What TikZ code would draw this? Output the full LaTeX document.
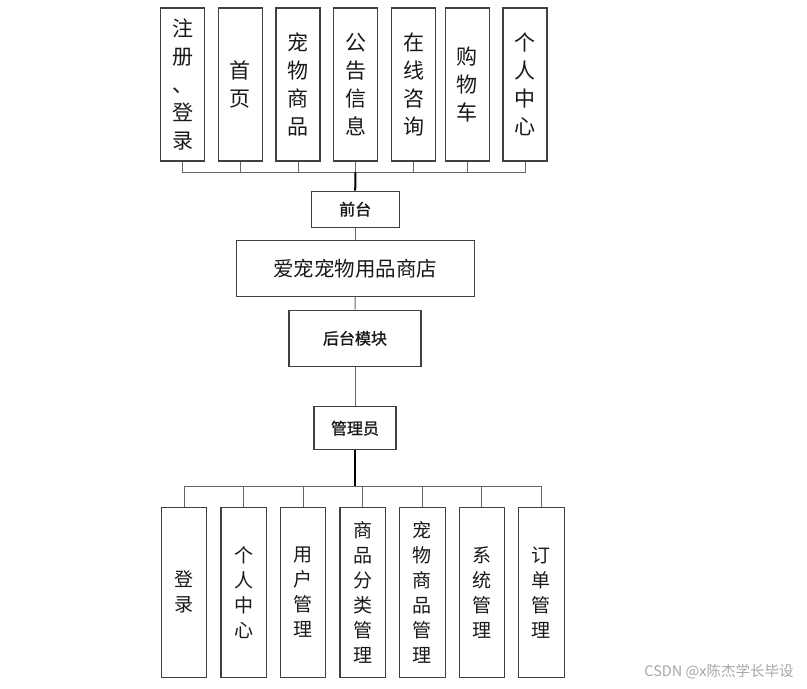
\documentclass[tikz,border=0pt]{standalone}
\usepackage{fontspec}
\setmainfont{Noto Sans CJK SC}
\newfontfamily\cjk{Noto Sans CJK SC}
\newfontfamily\cjkm[FakeBold=1.2]{Noto Sans CJK SC}
\begin{document}
\begin{tikzpicture}[x=1pt,y=-1pt,
  box/.style={draw=black!75,line width=1.1pt,fill=white,inner sep=0pt,align=center,text=black!90},
  topbox/.style={box,minimum width=44pt,minimum height=153pt,font=\cjk\fontsize{21}{28}\selectfont},
  botbox/.style={box,minimum width=45.5pt,minimum height=170pt,font=\cjk\fontsize{19}{25}\selectfont},
  midbox/.style={box,font=\cjkm\fontsize{16}{20}\selectfont},
  conn/.style={draw=black!60,line width=1pt},
  trunk/.style={draw=black,line width=2pt}]
\useasboundingbox (0,0) rectangle (807,689);

% top row
\node[topbox] (t1) at (182.5,84.5) {注\\册\\、\\登\\录};
\node[topbox] (t2) at (240.3,84.5) {首\\页};
\node[topbox] (t3) at (298,84.5) {宠\\物\\商\\品};
\node[topbox] (t4) at (355.7,84.5) {公\\告\\信\\息};
\node[topbox] (t5) at (413.7,84.5) {在\\线\\咨\\询};
\node[topbox] (t6) at (467.3,84.5) {购\\物\\车};
\node[topbox] (t7) at (525,84.5) {个\\人\\中\\心};

\node[midbox,minimum width=88pt,minimum height=36pt] (qt) at (355.2,209.2) {前台};
\node[box,minimum width=238pt,minimum height=56.5pt,font=\cjk\fontsize{20.5}{24}\selectfont] (shop) at (355.2,268.3) {爱宠宠物用品商店};
\node[midbox,minimum width=132pt,minimum height=56.5pt] (ht) at (355,338.3) {后台模块};
\node[midbox,minimum width=82pt,minimum height=43pt] (gly) at (355,428.2) {管理员};

% bottom row
\node[botbox] (b1) at (184,592.3) {登\\录};
\node[botbox] (b2) at (243.7,592.3) {个\\人\\中\\心};
\node[botbox] (b3) at (303,592.3) {用\\户\\管\\理};
\node[botbox] (b4) at (362.7,592.3) {商\\品\\分\\类\\管\\理};
\node[botbox] (b5) at (422.3,592.3) {宠\\物\\商\\品\\管\\理};
\node[botbox] (b6) at (481.8,592.3) {系\\统\\管\\理};
\node[botbox] (b7) at (541.3,592.3) {订\\单\\管\\理};

% connectors
\coordinate (tbus) at (355.5,172);
\coordinate (bbus) at (355,486);
\foreach \i in {1,...,7} {
  \draw[conn] (t\i.south) |- (tbus);
  \draw[conn] (b\i.north) |- (bbus);
}
\draw[trunk] (tbus) -- (qt.north);
\draw[conn] (qt.south) -- (shop.north);
\draw[conn] (shop.south) -- (ht.north);
\draw[conn] (ht.south) -- (gly.north);
\draw[trunk] (gly.south) -- (bbus);

\node[font=\cjk\fontsize{14.5}{16}\selectfont,text=black!35,inner sep=0pt] (wm) at (719,672) {CSDN @x陈杰学长毕设};
\end{tikzpicture}
\end{document}
